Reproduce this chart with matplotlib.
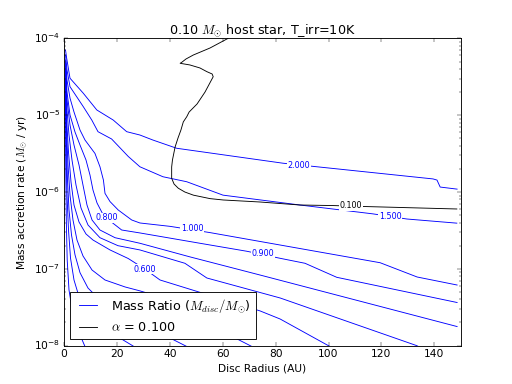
import matplotlib
matplotlib.use("Agg")
import matplotlib.pyplot as plt

plt.style.use("classic")

# ---- contour lines of disc-to-star mass ratio (radius AU, accretion rate Msun/yr) ----
r_200 = [0.57, 1.0, 2.27, 7.3, 12.4, 18.6, 23.7, 28.7, 33.6, 42.6, 82.8, 139.5, 141.0, 142.2, 148.6]
m_200 = [7.06e-5, 5.55e-5, 3.03e-5, 1.93e-5, 1.17e-5, 8.65e-6, 6.1e-6, 5.52e-6, 4.75e-6, 3.71e-6,
         2.37e-6, 1.48e-6, 1.43e-6, 1.16e-6, 1.09e-6]

r_150 = [0.57, 1.13, 2.27, 7.3, 10.5, 12.85, 18.0, 24.3, 28.7, 37.4, 46.4, 60.1, 89.2, 116.8, 129.6, 148.5]
m_150 = [6.08e-5, 3.88e-5, 2.35e-5, 1.29e-5, 8.65e-6, 6.1e-6, 4.9e-6, 2.9e-6, 2.13e-6, 1.58e-6,
         1.36e-6, 9.1e-7, 6.77e-7, 5.19e-7, 4.45e-7, 3.93e-7]

r_100 = [0.57, 1.13, 2.27, 3.78, 6.05, 7.94, 11.7, 13.6, 14.9, 15.5, 17.4, 20.5, 25.6, 28.7, 40.1,
         55.2, 74.1, 119.5, 133.5, 148.6]
m_100 = [5.24e-5, 2.87e-5, 1.67e-5, 1.10e-5, 6.41e-6, 4.75e-6, 3.18e-6, 2.13e-6, 1.43e-6, 9.6e-7,
         7.5e-7, 5.83e-7, 4.32e-7, 3.95e-7, 3.57e-7, 2.96e-7, 2.27e-7, 1.20e-7, 7.82e-8, 6.15e-8]

r_090 = [0.57, 1.13, 2.27, 4.16, 6.05, 8.32, 9.83, 10.96, 12.48, 14.74, 17.4, 21.8, 28.7, 51.4, 69.2,
         81.7, 91.1, 103.1, 148.6]
m_090 = [4.78e-5, 2.0e-5, 1.007e-5, 6.04e-6, 4.09e-6, 2.61e-6, 1.66e-6, 1.06e-6, 7.2e-7, 5.1e-7,
         4.2e-7, 3.2e-7, 2.93e-7, 2.15e-7, 1.69e-7, 1.37e-7, 1.18e-7, 7.75e-8, 3.64e-8]

r_080 = [0.57, 1.13, 2.27, 3.78, 5.67, 7.18, 8.69, 10.6, 13.6, 19.3, 28.7, 47.6, 74.1, 148.6]
m_080 = [4.39e-5, 1.58e-5, 7.45e-6, 4.09e-6, 2.25e-6, 1.23e-6, 6.77e-7, 4.32e-7, 3.2e-7, 2.54e-7,
         2.15e-7, 1.43e-7, 8.30e-8, 1.77e-8]

r_070 = [0.57, 1.13, 1.89, 3.02, 4.54, 6.43, 9.07, 13.6, 20.4, 28.7, 45.7, 54.0, 81.7, 133.3, 134.6]
m_070 = [3.88e-5, 1.17e-5, 5.52e-6, 2.61e-6, 1.23e-6, 6.2e-7, 3.72e-7, 2.54e-7, 2.0e-7, 1.76e-7,
         1.18e-7, 7.59e-8, 4.17e-8, 1.0e-8, 9.5e-9]

r_060 = [0.57, 1.0, 1.7, 2.65, 3.78, 5.67, 8.32, 10.96, 17.4, 24.3, 30.6, 36.3, 74.1, 81.7, 100.6]
m_060 = [3.34e-5, 8.65e-6, 3.3e-6, 1.35e-6, 6.77e-7, 4.07e-7, 2.84e-7, 2.37e-7, 1.76e-7, 1.36e-7,
         9.9e-8, 7.15e-8, 2.83e-8, 2.22e-8, 9.7e-9]

r_050 = [0.57, 0.95, 1.51, 2.27, 3.4, 4.91, 7.18, 10.6, 15.5, 23.1, 28.7, 35.1, 51.4, 71.1]
m_050 = [2.87e-5, 6.41e-6, 2.25e-6, 9.1e-7, 4.32e-7, 2.37e-7, 1.47e-7, 9.64e-8, 7.15e-8, 5.8e-8,
         5.16e-8, 4.43e-8, 2.15e-8, 9.7e-9]

r_040 = [0.57, 0.87, 1.32, 1.89, 2.84, 4.16, 6.05, 9.07, 13.6, 25.0, 46.5]
m_040 = [2.47e-5, 4.75e-6, 1.43e-6, 5.83e-7, 2.75e-7, 1.52e-7, 8.9e-8, 5.62e-8, 3.93e-8, 2.3e-8, 9.7e-9]

r_030 = [0.57, 0.76, 1.13, 1.7, 2.46, 3.78, 6.05, 10.6, 17.4, 26.5]
m_030 = [2.13e-5, 3.52e-6, 9.1e-7, 3.2e-7, 1.38e-7, 7.15e-8, 3.93e-8, 2.3e-8, 1.5e-8, 9.7e-9]

r_020 = [0.57, 0.68, 0.87, 1.21, 1.89, 3.4, 6.05, 7.94]
m_020 = [1.83e-5, 1.93e-6, 4.32e-7, 1.3e-7, 5.3e-8, 2.5e-8, 1.38e-8, 9.7e-9]

# ---- alpha = 0.1 contour ----
r_alpha = [62.0, 55.2, 48.9, 46.1, 44.5, 43.9, 47.6, 51.4, 54.0, 56.0, 56.4, 53.3, 50.3, 47.3, 46.4,
           45.1, 44.2, 43.1, 42.0, 41.0, 40.7, 40.7, 41.6, 43.2, 45.7, 48.9, 55.2, 60.2, 74.1, 89.2,
           101.7, 114.4, 148.5]
m_alpha = [1.0e-4, 7.5e-5, 6.08e-5, 5.39e-5, 4.88e-5, 4.74e-5, 4.51e-5, 4.12e-5, 3.69e-5, 3.44e-5,
           3.17e-5, 2.0e-5, 1.40e-5, 1.10e-5, 9.55e-6, 8.18e-6, 6.41e-6, 5.05e-6, 3.86e-6, 2.61e-6,
           2.12e-6, 1.51e-6, 1.27e-6, 1.12e-6, 9.99e-7, 9.1e-7, 8.2e-7, 7.87e-7, 7.41e-7, 6.77e-7,
           6.66e-7, 6.46e-7, 6.01e-7]

# ---- inline contour labels ----
label_text = ["2.000", "1.500", "1.000", "0.900", "0.800", "0.600", "0.100"]
label_r = [88.8, 123.3, 48.4, 75.2, 16.3, 30.6, 108.4]
label_m = [2.2e-6, 4.77e-7, 3.3e-7, 1.56e-7, 4.59e-7, 9.9e-8, 6.6e-7]
label_col = ["b", "b", "b", "b", "b", "b", "k"]

fig = plt.figure(figsize=(8, 6), dpi=64, facecolor="white")
ax = fig.add_subplot(111)

ratio_lines = [(r_200, m_200), (r_150, m_150), (r_100, m_100), (r_090, m_090), (r_080, m_080),
               (r_070, m_070), (r_060, m_060), (r_050, m_050), (r_040, m_040), (r_030, m_030),
               (r_020, m_020)]
for rr, mm in ratio_lines:
    ax.plot(rr, mm, color="b", lw=1.0)
ax.plot(r_alpha, m_alpha, color="k", lw=1.0)

for t, x, y, c in zip(label_text, label_r, label_m, label_col):
    ax.text(x, y, t, color=c, fontsize=9, ha="center", va="center", zorder=5,
            bbox=dict(fc="white", ec="none", pad=0.6))

ax.plot([], [], color="b", lw=1.0, label=r"Mass Ratio ($M_{disc}/M_{\odot}$)")
ax.plot([], [], color="k", lw=1.0, label=r"$\alpha$ = 0.100")

ax.set_yscale("log")
ax.set_xlim(0, 150)
ax.set_ylim(1e-8, 1e-4)
ax.set_xticks([0, 20, 40, 60, 80, 100, 120, 140])
ax.set_xlabel("Disc Radius (AU)")
ax.set_ylabel(r"Mass accretion rate ($M_{\odot}$ / yr)")
ax.set_title(r"0.10 $M_{\odot}$ host star, T_irr=10K")
ax.legend(loc="lower left")

fig.savefig("out.png", dpi=64, facecolor="white")
